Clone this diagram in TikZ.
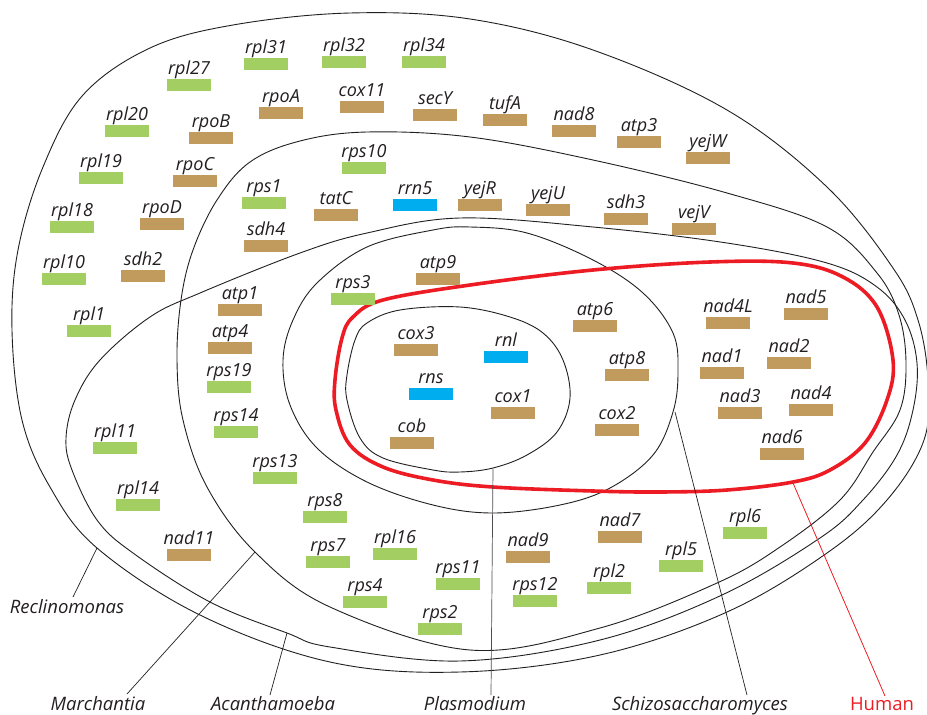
\documentclass[tikz,border=0pt]{standalone}
\usepackage{fontspec}
\setmainfont{Open Sans}
\definecolor{gg}{HTML}{A2CE62}
\definecolor{tn}{HTML}{C19A5E}
\definecolor{bl}{HTML}{00AEEF}
\definecolor{hred}{HTML}{ED1C24}
\definecolor{ink}{HTML}{231F20}
\newcommand{\mygene}[4]{%
  \node[gbox,fill=#4] (g#1) at (#2,#3) {};
  \node[glab] (t#1) at (#2,#3-10.5) {#1};}
\begin{document}
\begin{tikzpicture}[x=1pt,y=-1pt,
  gbox/.style={rectangle,draw=none,inner sep=0pt,minimum width=44pt,minimum height=11.5pt},
  glab/.style={anchor=base,inner sep=0pt,text=ink,font=\fontsize{18}{21}\selectfont\itshape},
  sp/.style={anchor=base,inner sep=0pt,text=ink,font=\fontsize{18.5}{21}\selectfont\itshape},
  curve/.style={draw=ink,line width=0.9pt},
  ptr/.style={draw=ink,line width=0.7pt},
  hcurve/.style={draw=hred,line width=3.6pt}]
\useasboundingbox (0,0) rectangle (927,715);
\fill[white] (0,0) rectangle (927,715);

% Reclinomonas
\draw[curve] plot[smooth cycle,tension=0.6] coordinates {
 (12,330) (18,250) (43,167) (83,95) (150,48) (233,25) (350,13) (470,19)
 (593,50) (727,110) (827,187) (893,268) (918,320) (928,380) (924,440)
 (887,500) (827,553) (727,612) (600,655) (460,672) (330,662) (200,615)
 (97,548) (50,487) (22,420)};
% Marchantia
\draw[curve] plot[smooth cycle,tension=0.6] coordinates {
 (177,360) (181,300) (193,250) (217,200) (250,162) (300,141) (367,132)
 (470,137) (593,160) (727,193) (827,227) (877,273) (899,315) (906,363)
 (900,410) (873,452) (840,500) (780,547) (717,583) (600,628) (470,650)
 (330,607) (255,552) (207,487) (183,420)};
% Acanthamoeba
\draw[curve] plot[smooth cycle,tension=0.6] coordinates {
 (100,360) (150,317) (200,293) (300,253) (367,233) (460,218) (593,227)
 (727,243) (827,263) (877,287) (905,320) (917,363) (913,410) (897,455)
 (863,500) (820,538) (722,595) (600,640) (460,661) (330,647) (287,633)
 (210,602) (133,553) (97,520) (72,470) (66,438) (75,400)};
% Schizosaccharomyces
\draw[curve] plot[smooth cycle,tension=0.6] coordinates {
 (283,360) (293,320) (317,283) (367,247) (433,230) (470,227) (527,233)
 (593,260) (643,293) (673,333) (678,372) (673,412) (653,455) (610,488)
 (560,505) (493,513) (433,505) (367,482) (317,448) (290,405)};
% Plasmodium
\draw[curve] plot[smooth cycle,tension=0.6] coordinates {
 (347,375) (355,340) (367,323) (400,310) (460,307) (510,317) (543,333)
 (563,360) (570,398) (557,432) (527,455) (493,468) (460,472) (433,470)
 (383,458) (360,438) (347,400)};
% Human
\draw[hcurve] plot[smooth cycle,tension=0.6] coordinates {
 (335,380) (342,338) (353,317) (383,300) (470,285) (593,270) (710,262)
 (793,263) (843,277) (877,307) (893,360) (887,400) (865,443) (830,470)
 (793,482) (727,490) (660,492) (593,491) (493,487) (433,480) (383,467)
 (350,445) (336,410)};

% genes
\mygene{rpl31}{266}{64}{gg}
\mygene{rpl32}{344}{62}{gg}
\mygene{rpl34}{424}{62}{gg}
\mygene{rpl27}{189}{85}{gg}
\mygene{rpoA}{281}{113}{tn}
\mygene{cox11}{362}{107}{tn}
\mygene{secY}{435}{115}{tn}
\mygene{tufA}{505}{120}{tn}
\mygene{nad8}{574}{131}{tn}
\mygene{atp3}{639}{142}{tn}
\mygene{yejW}{708}{158}{tn}
\mygene{rpl20}{127}{131}{gg}
\mygene{rpoB}{211}{138}{tn}
\mygene{rpl19}{101}{178}{gg}
\mygene{rpoC}{195}{181}{tn}
\mygene{rps10}{364}{168}{gg}
\mygene{rpl18}{72}{227}{gg}
\mygene{rpoD}{162}{224}{tn}
\mygene{rps1}{264}{203}{gg}
\mygene{tatC}{336}{215}{tn}
\mygene{rrn5}{415}{205}{bl}
\mygene{yejR}{480}{205}{tn}
\mygene{yejU}{548}{210}{tn}
\mygene{sdh3}{626}{219}{tn}
\mygene{vejV}{694}{229}{tn}
\mygene{sdh4}{266}{246}{tn}
\mygene{rpl10}{64}{279}{gg}
\mygene{sdh2}{143}{276}{tn}
\mygene{atp9}{438}{279}{tn}
\mygene{rps3}{353}{299}{gg}
\mygene{rpl1}{89}{331}{gg}
\mygene{atp1}{240}{310}{tn}
\mygene{atp4}{230}{348}{tn}
\mygene{cox3}{416}{350}{tn}
\mygene{rnl}{506}{357}{bl}
\mygene{atp6}{595}{326}{tn}
\mygene{nad4L}{728}{323}{tn}
\mygene{nad5}{806}{314}{tn}
\mygene{nad2}{789}{363}{tn}
\mygene{nad1}{722}{373}{tn}
\mygene{atp8}{627}{375}{tn}
\mygene{rns}{431}{394}{bl}
\mygene{rps19}{229}{387}{gg}
\mygene{cox1}{513}{413}{tn}
\mygene{nad3}{740}{413}{tn}
\mygene{nad4}{811}{410}{tn}
\mygene{rpl11}{115}{448}{gg}
\mygene{rps14}{236}{432}{gg}
\mygene{cox2}{617}{430}{tn}
\mygene{cob}{412}{443}{tn}
\mygene{nad6}{782}{454}{tn}
\mygene{rps13}{275}{478}{gg}
\mygene{rpl14}{138}{505}{gg}
\mygene{rps8}{325}{517}{gg}
\mygene{nad11}{189}{555}{tn}
\mygene{rpl16}{395}{554}{gg}
\mygene{rps7}{328}{562}{gg}
\mygene{nad9}{528}{557}{tn}
\mygene{nad7}{620}{537}{tn}
\mygene{rpl6}{745}{533}{gg}
\mygene{rps11}{458}{584}{gg}
\mygene{rpl5}{681}{566}{gg}
\mygene{rps12}{535}{601}{gg}
\mygene{rpl2}{609}{588}{gg}
\mygene{rps4}{365}{602}{gg}
\mygene{rps2}{440}{629}{gg}

% species labels
\node[sp] (Recl) at (67,613) {Reclinomonas};
\node[sp] (March) at (98,710) {Marchantia};
\node[sp] (Acan) at (273,710) {Acanthamoeba};
\node[sp] (Plas) at (475,710) {Plasmodium};
\node[sp] (Schi) at (700,710) {Schizosaccharomyces};
\node[sp,text=hred,font=\fontsize{18.5}{21}\selectfont\upshape] (Hum) at (882,710) {Human};

% pointers
\coordinate (cR) at (97,548);  \coordinate (eR) at (73,597);
\coordinate (cM) at (255,552); \coordinate (eM) at (127,694);
\coordinate (cA) at (287,633); \coordinate (eA) at (270,695);
\coordinate (cP) at (493,469); \coordinate (eP) at (491,695);
\coordinate (cS) at (675,412); \coordinate (eS) at (747,695);
\coordinate (cH) at (793,483); \coordinate (eH) at (885,696);
\draw[ptr] (cR) -- (eR);
\draw[ptr] (cM) -- (eM);
\draw[ptr] (cA) -- (eA);
\draw[ptr,draw=ink!80] (cP) -- (eP);
\draw[ptr] (cS) -- (eS);
\draw[ptr,draw=hred,line width=0.8pt] (cH) -- (eH);
\end{tikzpicture}
\end{document}
